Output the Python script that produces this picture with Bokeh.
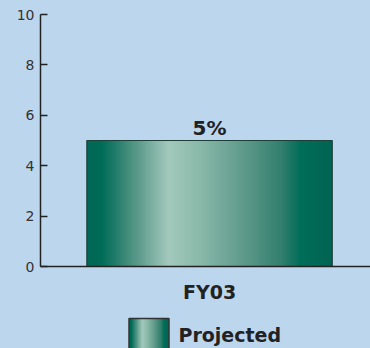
import numpy as np
from bokeh.plotting import figure
from bokeh.layouts import column
from bokeh.models import Range1d, FixedTicker, ColumnDataSource
from bokeh.core.properties import value
from bokeh.embed import file_html
from bokeh.resources import INLINE

# ---- data ----
categories = ["FY03"]
values = [5]
bar_labels = ["5%"]
series_name = "Projected"
y_ticks = [0, 2, 4, 6, 8, 10]

BG = "#bcd6ee"
TXT = "#222222"
FONT = "DejaVu Sans"

# gradient stops (fraction across bar, rgb)
stops = [(0.00, (0, 104, 86)), (0.06, (0, 108, 88)), (0.20, (88, 152, 136)),
         (0.33, (163, 201, 188)), (0.45, (140, 187, 171)), (0.65, (92, 152, 137)),
         (0.80, (48, 126, 108)), (0.87, (0, 110, 90)), (1.00, (0, 100, 82))]

def gradient_rgba(n=256):
    t = np.linspace(0, 1, n)
    fr = [s[0] for s in stops]
    img = np.zeros((1, n), dtype=np.uint32)
    view = img.view(dtype=np.uint8).reshape((1, n, 4))
    for c in range(3):
        view[0, :, c] = np.interp(t, fr, [s[1][c] for s in stops]).astype(np.uint8)
    view[0, :, 3] = 255
    return img

grad = gradient_rgba()

xs = list(range(len(categories)))
bw = 1.0

p = figure(width=370, height=306, output_backend="svg", toolbar_location=None,
           x_range=Range1d(-0.689, 0.656), y_range=Range1d(0, 10),
           min_border_left=40, min_border_right=0, min_border_top=14, min_border_bottom=40)
p.frame_align = False
p.background_fill_color = BG
p.border_fill_color = BG
p.outline_line_color = None
p.grid.grid_line_color = None

for x, v in zip(xs, values):
    p.image_rgba(image=[grad], x=x - bw / 2, y=0, dw=bw, dh=v)
src = ColumnDataSource(dict(x=xs, v=values, lab=bar_labels))
p.vbar(x="x", top="v", width=bw, source=src, fill_color=None,
       line_color="#1d3f38", line_width=1.2)
p.text(x="x", y="v", text="lab", source=src, text_align="center",
       text_baseline="alphabetic", y_offset=-13, text_font=value(FONT),
       text_font_style="bold", text_font_size="20px", text_color=TXT)

ya = p.yaxis[0]
ya.ticker = FixedTicker(ticks=y_ticks)
ya.axis_line_color = "#222222"
ya.axis_line_width = 1.5
ya.major_tick_line_color = "#222222"
ya.major_tick_line_width = 1.5
ya.major_tick_in = 7
ya.major_tick_out = 0
ya.minor_tick_line_color = None
ya.major_label_standoff = 6
ya.major_label_text_font = FONT
ya.major_label_text_font_size = "14px"
ya.major_label_text_color = "#333333"

xa = p.xaxis[0]
xa.ticker = FixedTicker(ticks=xs)
xa.major_label_overrides = {x: c for x, c in zip(xs, categories)}
xa.axis_line_color = "#222222"
xa.axis_line_width = 1.5
xa.major_tick_line_color = None
xa.minor_tick_line_color = None
xa.major_tick_in = 0
xa.major_tick_out = 0
xa.major_label_standoff = 14
xa.major_label_text_font = FONT
xa.major_label_text_font_style = "bold"
xa.major_label_text_font_size = "19px"
xa.major_label_text_color = TXT

# legend figure
lg = figure(width=370, height=42, output_backend="svg", toolbar_location=None,
            x_range=Range1d(0, 370), y_range=Range1d(0, 42),
            x_axis_type=None, y_axis_type=None, min_border=0)
lg.frame_align = False
lg.background_fill_color = BG
lg.border_fill_color = BG
lg.outline_line_color = None
lg.grid.grid_line_color = None
lg.image_rgba(image=[grad], x=128.5, y=-2, dw=40, dh=32)
lg.quad(left=[128.5], right=[168.5], top=[30], bottom=[-5], fill_color=None,
        line_color="#333333", line_width=1.5)
lg.text(x=[178], y=[14], text=[series_name], text_align="left", text_baseline="middle",
        text_font=value(FONT), text_font_style="bold", text_font_size="19px", text_color=TXT)

layout = column(p, lg, spacing=0)
layout.background = BG
open("out.html", "w").write(file_html(layout, INLINE))
